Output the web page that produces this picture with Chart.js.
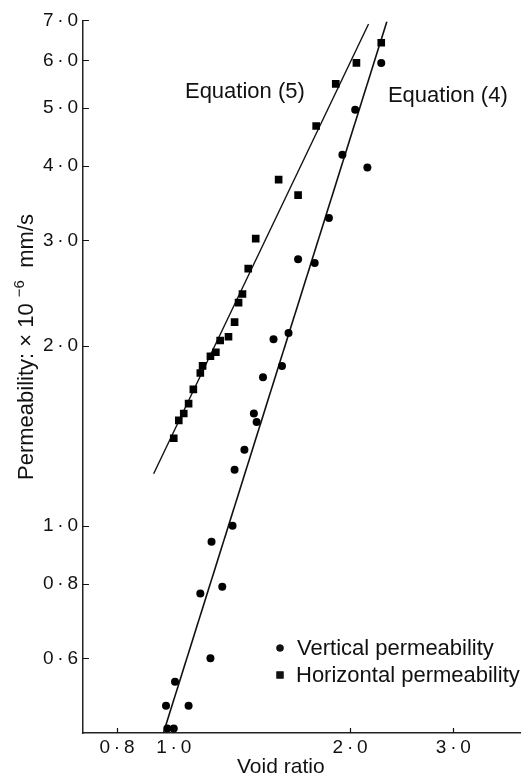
<!DOCTYPE html>
<html>
<head>
<meta charset="utf-8">
<script src="https://cdn.jsdelivr.net/npm/chart.js@4.4.0/dist/chart.umd.min.js"></script>
<style>
  html, body { margin: 0; padding: 0; background: #fff; }
  #wrap { width: 526px; height: 783px; }
</style>
</head>
<body>
<div id="wrap"><canvas id="permChart" width="526" height="783"></canvas></div>
<script>
// vertical permeability (round markers)
const vertVoid = [2.26, 2.04, 1.94, 2.14, 1.84, 1.63, 1.74, 1.48, 1.57, 1.53, 1.42, 1.37, 1.385, 1.32,
                  1.27, 1.26, 1.16, 1.21, 1.11, 1.155, 1.005, 0.97, 1.06, 0.975, 1.0];
const vertPerm = [5.94, 4.96, 4.17, 3.97, 3.27, 2.79, 2.75, 2.05, 2.10, 1.85, 1.77, 1.54, 1.49, 1.34,
                  1.24, 1.00, 0.94, 0.79, 0.77, 0.60, 0.548, 0.50, 0.50, 0.458, 0.458];

// horizontal permeability (square markers)
const horVoid = [1.00, 1.02, 1.04, 1.06, 1.08, 1.11, 1.12, 1.155, 1.18, 1.20, 1.24,
                 1.27, 1.29, 1.31, 1.34, 1.38, 1.51, 1.63, 1.75, 1.89, 2.05, 2.26];
const horPerm = [1.40, 1.50, 1.54, 1.60, 1.69, 1.80, 1.85, 1.92, 1.95, 2.04, 2.07,
                 2.19, 2.36, 2.44, 2.69, 3.02, 3.79, 3.57, 4.66, 5.48, 5.94, 6.42];

// fitted lines, end points only
const eq4Void = [0.96, 2.31];
const eq4Perm = [0.45, 6.96];
const eq5Void = [0.924, 2.15];
const eq5Perm = [1.221, 6.90];

const xTicks = [0.8, 1.0, 2.0, 3.0];
const yTicks = [0.6, 0.8, 1.0, 2.0, 3.0, 4.0, 5.0, 6.0, 7.0];

const FONT = '"Liberation Sans", Arial, sans-serif';
const INK = '#111';

function toPoints(xs, ys) {
    return xs.map((v, i) => ({ x: v, y: ys[i] }));
}

function fmtTick(v) {
    return v.toFixed(1).replace('.', '\u2009\u00b7\u2009');
}

// short ticks pointing into the plot
const inwardTicks = {
    id: 'inwardTicks',
    afterDatasetsDraw(chart) {
        const { ctx, scales: { x, y } } = chart;
        ctx.save();
        ctx.strokeStyle = INK;
        ctx.lineWidth = 1.2;
        ctx.beginPath();
        xTicks.forEach(v => {
            const px = Math.round(x.getPixelForValue(v)) + 0.5;
            ctx.moveTo(px, y.bottom);
            ctx.lineTo(px, y.bottom - 5);
        });
        yTicks.forEach(v => {
            const py = Math.round(y.getPixelForValue(v)) + 0.5;
            ctx.moveTo(x.left, py);
            ctx.lineTo(x.left + 6, py);
        });
        ctx.stroke();
        ctx.restore();
    }
};

// axis titles, equation labels and the legend box
const labels = {
    id: 'labels',
    afterDraw(chart) {
        const { ctx, scales: { x, y } } = chart;
        ctx.save();
        ctx.fillStyle = INK;
        ctx.textAlign = 'left';
        ctx.textBaseline = 'alphabetic';

        ctx.font = '22px ' + FONT;
        ctx.fillText('Equation (5)', x.getPixelForValue(1.045), y.getPixelForValue(5.19));
        ctx.fillText('Equation (4)', x.getPixelForValue(2.32), y.getPixelForValue(5.11));

        // legend
        Chart.helpers.drawPoint(ctx, { pointStyle: 'circle', radius: 3.6, borderWidth: 0 }, 280, 648);
        ctx.fill();
        Chart.helpers.drawPoint(ctx, { pointStyle: 'rect', radius: 5, borderWidth: 0 }, 280, 675);
        ctx.fill();
        ctx.fillText('Vertical permeability', 297, 655);
        ctx.fillText('Horizontal permeability', 296, 682);

        // x title
        ctx.font = '21px ' + FONT;
        ctx.fillText('Void ratio', 237, 773);

        // y title, rotated, with superscript exponent
        ctx.translate(33, 480);
        ctx.rotate(-Math.PI / 2);
        ctx.font = '22px ' + FONT;
        let pos = 0;
        const main = 'Permeability: \u00d7 10 ';
        ctx.fillText(main, pos, 0);
        pos += ctx.measureText(main).width;
        ctx.font = '15px ' + FONT;
        ctx.fillText('\u22126', pos, -9);
        pos += ctx.measureText('\u22126').width;
        ctx.font = '22px ' + FONT;
        ctx.fillText('  mm/s', pos, 0);
        ctx.restore();
    }
};

document.addEventListener('DOMContentLoaded', () => {
    const data = {
        datasets: [
            {
                label: 'Vertical permeability',
                data: toPoints(vertVoid, vertPerm),
                pointStyle: 'circle',
                pointRadius: 4,
                pointBorderWidth: 0,
                backgroundColor: '#000',
                showLine: false
            },
            {
                label: 'Horizontal permeability',
                data: toPoints(horVoid, horPerm),
                pointStyle: 'rect',
                pointRadius: 5.4,
                pointBorderWidth: 0,
                backgroundColor: '#000',
                showLine: false
            },
            {
                label: 'Equation (4)',
                data: toPoints(eq4Void, eq4Perm),
                showLine: true,
                pointRadius: 0,
                borderColor: INK,
                borderWidth: 1.6
            },
            {
                label: 'Equation (5)',
                data: toPoints(eq5Void, eq5Perm),
                showLine: true,
                pointRadius: 0,
                borderColor: INK,
                borderWidth: 1.4
            }
        ]
    };

    new Chart(document.getElementById('permChart'), {
        type: 'scatter',
        data: data,
        plugins: [inwardTicks, labels],
        options: {
            responsive: false,
            animation: false,
            layout: { padding: { top: 20.3, right: 0, bottom: 0, left: 0 } },
            plugins: {
                legend: { display: false },
                tooltip: { enabled: false }
            },
            scales: {
                x: {
                    type: 'logarithmic',
                    min: 0.7078,
                    max: 3.908,
                    afterBuildTicks: s => { s.ticks = xTicks.map(v => ({ value: v })); },
                    afterFit: s => { s.height = 50; },
                    grid: { display: true, drawOnChartArea: false, drawTicks: false },
                    border: { display: true, color: '#222', width: 1.5 },
                    ticks: {
                        autoSkip: false,
                        maxRotation: 0,
                        padding: 3,
                        color: INK,
                        font: { family: FONT, size: 19 },
                        callback: v => fmtTick(v)
                    }
                },
                y: {
                    type: 'logarithmic',
                    min: 0.45,
                    max: 7.0,
                    afterBuildTicks: s => { s.ticks = yTicks.map(v => ({ value: v })); },
                    afterFit: s => { s.width = 83; },
                    grid: { display: true, drawOnChartArea: false, drawTicks: false },
                    border: { display: true, color: '#222', width: 1.5 },
                    ticks: {
                        autoSkip: false,
                        padding: 5,
                        color: INK,
                        font: { family: FONT, size: 19 },
                        callback: v => fmtTick(v)
                    }
                }
            }
        }
    });
});
</script>
</body>
</html>
